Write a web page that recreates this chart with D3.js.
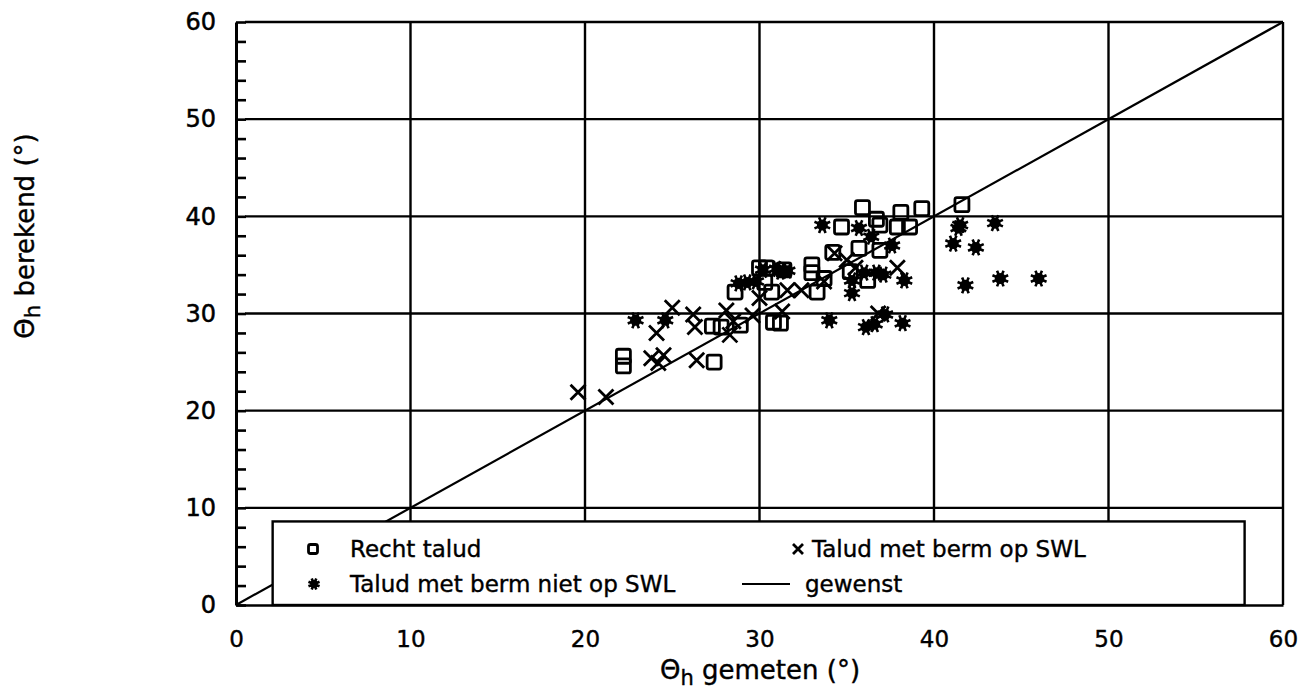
<!DOCTYPE html>
<html><head><meta charset="utf-8">
<script src="https://cdn.jsdelivr.net/npm/d3@7"></script>
<style>body{margin:0;background:#fff}</style>
</head><body>
<svg id="c" width="1312" height="697"></svg>
<script>
// Recht talud (squares)
const rechtGemeten  = [22.2,22.2,27.4,27.3,27.8,28.9,28.6,30.0,30.4,30.3,30.7,31.2,30.8,31.4,33.0,33.0,33.3,33.7,35.2,36.2,34.7,35.9,36.9,36.7,38.1,39.3,37.9,38.6,35.7,36.9,34.2,41.6];
const rechtBerekend = [25.6,24.6,25.0,28.7,28.6,28.8,32.2,34.7,34.7,33.2,32.2,29.0,29.1,34.5,35.0,34.2,32.2,33.6,34.3,33.4,38.9,40.9,39.1,39.7,40.4,40.8,38.9,38.9,36.7,36.5,36.3,41.2];
// Talud met berm op SWL (crosses)
const opGemeten  = [19.6,21.2,23.8,24.2,24.5,24.1,25.0,26.2,26.3,26.4,28.1,28.3,28.5,30.0,31.3,31.6,32.4,34.3,35.0,35.5,33.7,36.8,37.9,29.6];
const opBerekend = [21.9,21.4,25.4,24.9,25.7,28.0,30.6,29.9,28.6,25.2,30.3,27.8,29.2,31.6,30.2,32.4,32.4,36.2,35.5,34.7,33.3,30.0,34.7,29.8];
// Talud met berm niet op SWL (stars)
const nietGemeten  = [22.9,24.6,28.8,29.3,29.8,30.2,31.2,31.6,34.0,33.6,35.7,36.4,37.6,35.3,35.3,36.0,36.7,37.1,38.3,36.1,36.6,37.2,38.2,41.5,41.4,43.5,41.1,42.4,41.8,43.8,46.0,31.0];
const nietBerekend = [29.3,29.3,33.1,33.2,33.3,34.5,34.3,34.4,29.3,39.1,38.8,37.9,37.0,32.1,33.4,34.2,34.2,34.0,33.4,28.6,28.9,29.9,29.0,39.1,38.8,39.3,37.2,36.8,32.9,33.6,33.6,34.6];
// gewenst line
const lineX = [0,60], lineY = [0,60];
const majorTicks = [0,10,20,30,40,50,60];
const minorTicks = d3.range(0,61,2);
const legendLabels = ["Recht talud","Talud met berm op SWL","Talud met berm niet op SWL","gewenst"];

const svg = d3.select("#c");
const x = d3.scaleLinear().domain([0,60]).range([236,1283]);
const y = d3.scaleLinear().domain([0,60]).range([605,22]);
const font = "'DejaVu Sans', sans-serif";

// grid
const g = svg.append("g").attr("stroke","#000").attr("stroke-width",2.4);
majorTicks.filter(v=>v>0).forEach(v=>{
  g.append("line").attr("x1",x(v)).attr("x2",x(v)).attr("y1",y(60)).attr("y2",y(0));
  g.append("line").attr("x1",x(0)+9).attr("x2",x(60)).attr("y1",y(v)).attr("y2",y(v));
});

// diagonal line
svg.append("path").attr("fill","none").attr("stroke","#000").attr("stroke-width",2.2)
  .attr("d", d3.line().x(d=>x(d[0])).y(d=>y(d[1]))(d3.zip(lineX,lineY)));

// markers
function square(sel, cx, cy, s){
  sel.append("rect").attr("x",cx-s/2).attr("y",cy-s/2).attr("width",s).attr("height",s)
    .attr("rx",2).attr("fill","none").attr("stroke","#000").attr("stroke-width",2.8);
}
function cross(sel, cx, cy, s){
  sel.append("path").attr("d",`M${cx-s/2},${cy-s/2}L${cx+s/2},${cy+s/2}M${cx-s/2},${cy+s/2}L${cx+s/2},${cy-s/2}`)
    .attr("stroke","#000").attr("stroke-width",2.8).attr("fill","none");
}
function star(sel, cx, cy, r){
  sel.append("circle").attr("cx",cx).attr("cy",cy).attr("r",r*0.65).attr("fill","#000");
  let d="";
  for(let i=0;i<8;i++){const a=i*Math.PI/4+Math.PI/8;d+=`M${cx},${cy}L${cx+r*Math.cos(a)},${cy+r*Math.sin(a)}`;}
  sel.append("path").attr("d",d).attr("stroke","#000").attr("stroke-width",2.6);
}
const pts = svg.append("g");
rechtGemeten.forEach((v,i)=>square(pts, x(v), y(rechtBerekend[i]), 14));
opGemeten.forEach((v,i)=>cross(pts, x(v), y(opBerekend[i]), 15));
nietGemeten.forEach((v,i)=>star(pts, x(v), y(nietBerekend[i]), 8.5));

// legend
const lg = svg.append("g");
lg.append("rect").attr("x",x(2.1)).attr("y",y(8.6)).attr("width",x(57.8)-x(2.1)).attr("height",y(0)-y(8.6))
  .attr("fill","#fff").attr("stroke","#000").attr("stroke-width",2.4);
square(lg, 313, 549, 9);
cross(lg, 798, 549, 10);
star(lg, 314, 584, 6);
lg.append("line").attr("x1",742).attr("x2",790).attr("y1",584).attr("y2",584).attr("stroke","#000").attr("stroke-width",2.2);
const lt = [[350,549,legendLabels[0]],[812,549,legendLabels[1]],[350,584,legendLabels[2]],[805,584,legendLabels[3]]];
lt.forEach(t=>lg.append("text").attr("x",t[0]).attr("y",t[1]).attr("dy","0.35em")
  .attr("font-family",font).attr("font-size",23).attr("stroke","#000").attr("stroke-width",0.4).text(t[2]));

// axes
const ya = svg.append("g").attr("transform",`translate(${x(0)},0)`)
  .call(d3.axisLeft(y).tickValues(majorTicks).tickSize(0).tickPadding(20));
ya.selectAll("text").attr("font-family",font).attr("font-size",24).attr("fill","#000").attr("stroke","#000").attr("stroke-width",0.5);
ya.select(".domain").attr("stroke","#000").attr("stroke-width",3);
const ym = svg.append("g").attr("transform",`translate(${x(0)},0)`)
  .call(d3.axisRight(y).tickValues(minorTicks).tickSize(10).tickFormat(""));
ym.select(".domain").remove();
ym.selectAll("line").attr("stroke","#000").attr("stroke-width",2.6);

const xa = svg.append("g").attr("transform",`translate(0,${y(0)})`)
  .call(d3.axisBottom(x).tickValues(majorTicks).tickSize(0).tickPadding(26));
xa.selectAll("text").attr("font-family",font).attr("font-size",23).attr("fill","#000").attr("stroke","#000").attr("stroke-width",0.4);
xa.select(".domain").attr("stroke","#000").attr("stroke-width",2.6);

// axis titles
const xt = svg.append("text").attr("x",760).attr("y",679).attr("text-anchor","middle")
  .attr("font-family",font).attr("font-size",26).attr("stroke","#000").attr("stroke-width",0.4);
xt.append("tspan").text("Θ");
xt.append("tspan").attr("dy",6).attr("font-size",21).text("h");
xt.append("tspan").attr("dy",-6).text(" gemeten (°)");

const yt = svg.append("text").attr("transform","translate(34,236) rotate(-90)").attr("text-anchor","middle")
  .attr("font-family",font).attr("font-size",26).attr("stroke","#000").attr("stroke-width",0.4);
yt.append("tspan").text("Θ");
yt.append("tspan").attr("dy",6).attr("font-size",21).text("h");
yt.append("tspan").attr("dy",-6).text(" berekend (°)");
</script>
</body></html>
